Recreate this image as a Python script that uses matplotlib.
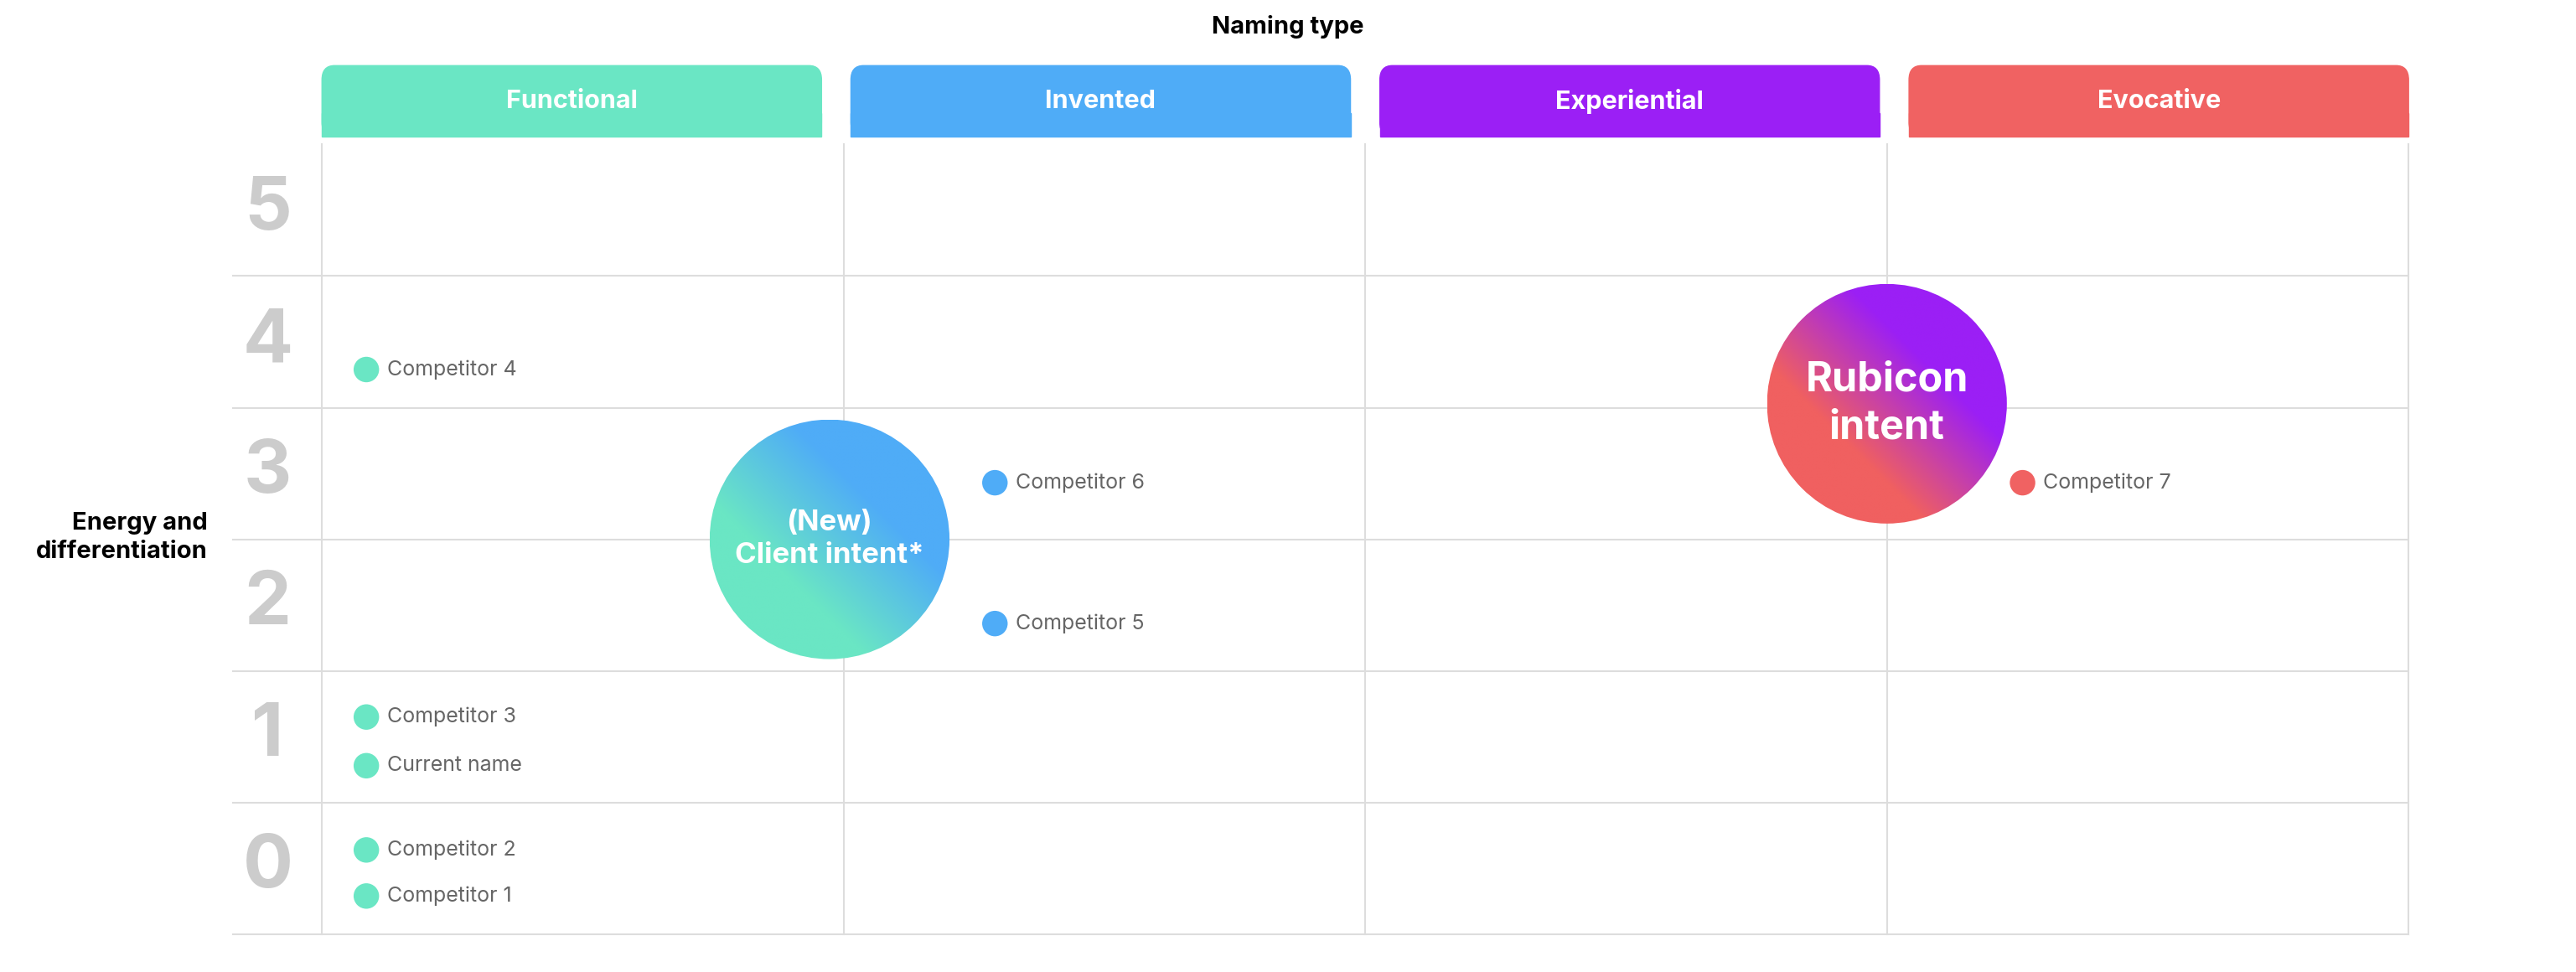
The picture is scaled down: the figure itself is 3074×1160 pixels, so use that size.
import matplotlib
matplotlib.use("Agg")
import matplotlib.pyplot as plt
import numpy as np
from matplotlib.patches import Ellipse, FancyBboxPatch, Rectangle
from matplotlib.colors import LinearSegmentedColormap

plt.rcParams['font.family'] = ['Inter', 'DejaVu Sans']

categories = ["Functional", "Invented", "Experiential", "Evocative"]
cat_colors = ["#6ae6c4", "#4facf7", "#9b1ff5", "#f06262"]
levels = [0, 1, 2, 3, 4, 5]

point_labels = ["Competitor 4", "Competitor 3", "Current name", "Competitor 2", "Competitor 1",
                "Competitor 6", "Competitor 5", "Competitor 7"]
point_x = [0.085, 0.085, 0.085, 0.085, 0.085, 1.29, 1.29, 3.26]
point_y = [4.29, 1.65, 1.28, 0.64, 0.29, 3.43, 2.36, 3.43]
point_cat = [0, 0, 0, 0, 0, 1, 1, 3]

bubbles = [("(New)\nClient intent*", 0.973, 3.0, "#6ae6c4", "#4facf7", 25),
           ("Rubicon\nintent", 3.0, 4.03, "#f06060", "#9b1ff5", 35)]

fig = plt.figure(figsize=(30.74, 11.6), dpi=100)
ax = fig.add_axes([0.125, 0.0389, 0.81, 0.8125])
ax.set_xlim(0, 4)
ax.set_ylim(0, 6)
ax.axis('off')

lc = "#dddddd"
trans = ax.get_yaxis_transform()
for yb in range(0, 6):
    ax.plot([-0.0425, 1], [yb, yb], transform=trans, color=lc, lw=1.5, clip_on=False, zorder=1)
for xb in range(0, 5):
    ax.plot([xb, xb], [0, 6], color=lc, lw=1.5, clip_on=False, zorder=1)

for lv in levels:
    ax.text(-0.026, lv + 0.5, str(lv), transform=ax.get_yaxis_transform(), ha='center', va='center',
            fontsize=64, fontweight='bold', color="#cccccc")

# headers
for i, (c, col) in enumerate(zip(categories, cat_colors)):
    x0 = i * 0.25 + 0.0 if i == 0 else i * 0.25 + 0.0142
    x0 = [0.0, 0.2535, 0.507, 0.7606][i]
    w = 0.2394
    ax.add_patch(FancyBboxPatch((x0, 1.010), w, 0.0898, boxstyle="round,pad=0,rounding_size=0.006",
                                transform=ax.transAxes, color=col, clip_on=False,
                                mutation_aspect=3.0))
    ax.add_patch(Rectangle((x0, 1.010), w, 0.03, transform=ax.transAxes, color=col, clip_on=False))
    ax.text(x0 + w / 2, 1.055, c, transform=ax.transAxes, ha='center', va='center',
            color='white', fontsize=22, fontweight='bold')

fig.text(0.5, 0.972, "Naming type", ha='center', va='center', fontsize=21, fontweight='bold')
fig.text(0.0805, 0.447, "Energy and\ndifferentiation", ha='right', va='center', fontsize=21,
         fontweight='bold', linespacing=1.3)

for lab, x, y, ci in zip(point_labels, point_x, point_y, point_cat):
    ax.scatter([x], [y], s=480, color=cat_colors[ci], zorder=3, edgecolors='none')
    ax.text(x + 0.04, y, lab, ha='left', va='center', fontsize=18, color="#666666", zorder=3)

rpx = 73
w = 2 * rpx / 317.5
h = 2 * rpx / 80.2
for text, cx, cy, c1, c2, fs in bubbles:
    cmap = LinearSegmentedColormap.from_list("g", [c1, c1, c2, c2], N=256)
    g = np.linspace(0, 1, 200)
    X, Y = np.meshgrid(g, g)
    Z = (X + Y) / 2
    im = ax.imshow(Z, cmap=cmap, origin='lower', extent=[cx - w / 2, cx + w / 2, cy - h / 2, cy + h / 2],
                   aspect='auto', zorder=4, interpolation='bilinear')
    e = Ellipse((cx, cy), w, h, transform=ax.transData, facecolor='none', edgecolor='none')
    ax.add_patch(e)
    im.set_clip_path(e)
    ax.text(cx, cy, text, ha='center', va='center', color='white', fontsize=fs, fontweight='bold',
            zorder=5, linespacing=1.3)

ax.set_xlim(0, 4)
ax.set_ylim(0, 6)
fig.savefig("out.png", dpi=100)
